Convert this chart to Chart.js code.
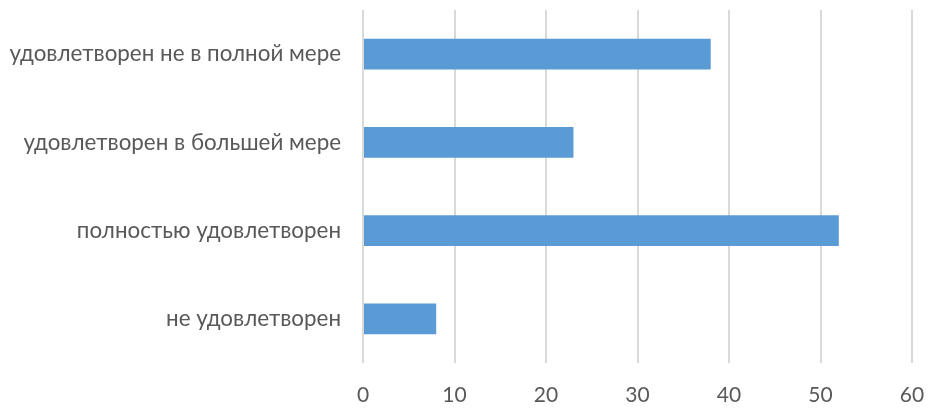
<!DOCTYPE html>
<html>
<head>
<meta charset="utf-8">
<script src="https://cdn.jsdelivr.net/npm/chart.js@4/dist/chart.umd.min.js"></script>
<style>
  html, body { margin: 0; padding: 0; background: #fff; }
  #wrap { width: 929px; height: 408px; }
</style>
</head>
<body>
<div id="wrap"><canvas id="myChart" width="929" height="408"></canvas></div>
<script>
// categories, top to bottom as drawn
const categories = [
  "удовлетворен не в полной мере",
  "удовлетворен в большей мере",
  "полностью удовлетворен",
  "не удовлетворен"
];
const values = [38, 23, 52, 8];
const xTicks = [0, 10, 20, 30, 40, 50, 60];

new Chart("myChart", {
  type: "bar",
  data: {
    labels: categories,
    datasets: [{
      data: values,
      backgroundColor: "#5B9BD5",
      borderWidth: 0,
      categoryPercentage: 0.7,
      barPercentage: 0.5
    }]
  },
  options: {
    indexAxis: "y",
    responsive: false,
    animation: false,
    layout: { padding: { top: 10, right: 17, left: 0, bottom: 0 } },
    plugins: {
      legend: { display: false },
      tooltip: { enabled: false }
    },
    scales: {
      x: {
        min: xTicks[0],
        max: xTicks[xTicks.length - 1],
        afterBuildTicks: function(axis) {
          axis.ticks = xTicks.map(function(v) { return { value: v }; });
        },
        afterFit: function(axis) {
          axis.height = 45;
          axis.paddingLeft = 0;
          axis.paddingRight = 0;
        },
        grid: { color: "#D9D9D9", lineWidth: 2, drawTicks: false },
        border: { display: false },
        ticks: {
          color: "#595959",
          padding: 20,
          font: { family: "Lato", size: 21 }
        }
      },
      y: {
        afterFit: function(axis) {
          axis.width = 363;
          axis.paddingTop = 0;
          axis.paddingBottom = 0;
        },
        grid: { display: false, drawTicks: false },
        border: { display: false },
        ticks: {
          color: "#595959",
          padding: 22,
          font: { family: "Lato", size: 22.4 }
        }
      }
    }
  }
});
</script>
</body>
</html>
